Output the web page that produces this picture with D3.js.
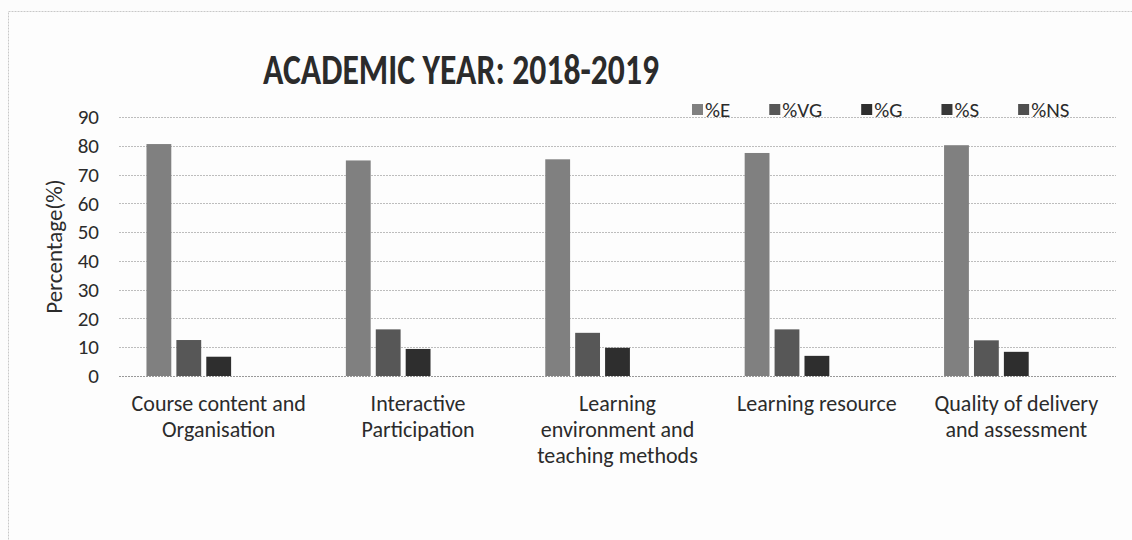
<!DOCTYPE html>
<html lang="en">
<head>
<meta charset="UTF-8">
<title>Academic year 2018-2019</title>
<style>
  body { margin: 0; background: #fcfcfc; }
  svg { display: block; }
  text { font-family: Carlito, Lato, "Open Sans", sans-serif; fill: #2b2b2b; }
  .grid line { stroke: #bdbdbd; stroke-width: 1; stroke-dasharray: 2 1; }
  .axis path, .axis line { display: none; }
</style>
</head>
<body>
<svg width="1132" height="540"></svg>
<script src="https://d3js.org/d3.v7.min.js"></script>
<script>

var categories = [
  ["Course content and", "Organisation"],
  ["Interactive", "Participation"],
  ["Learning", "environment and", "teaching methods"],
  ["Learning resource"],
  ["Quality of delivery", "and assessment"]
];
var seriesNames = ["%E", "%VG", "%G", "%S", "%NS"];
var pctE  = [80.6, 74.9, 75.3, 77.5, 80.2];
var pctVG = [12.5, 16.2, 15.0, 16.2, 12.4];
var pctG  = [6.7, 9.4, 9.8, 7.0, 8.4];
var pctS  = [0, 0, 0, 0, 0];
var pctNS = [0, 0, 0, 0, 0];
var yTicks = [0, 10, 20, 30, 40, 50, 60, 70, 80, 90];

var colors = ["#808080", "#575757", "#2e2e2e", "#383838", "#4f4f4f"];
var values = [pctE, pctVG, pctG, pctS, pctNS];

var svg = d3.select("svg");

// chart frame (runs off the page at right and bottom, like the scan)
svg.append("rect")
    .attr("x", 8.5).attr("y", 11.5)
    .attr("width", 1200).attr("height", 600)
    .attr("fill", "#fdfdfd")
    .attr("stroke", "#c8c8c8")
    .attr("stroke-dasharray", "2 1");

var plotLeft = 119, plotRight = 1116, plotTop = 117, plotBottom = 376;

var x0 = d3.scaleBand()
    .domain(d3.range(categories.length))
    .range([plotLeft, plotRight])
    .paddingInner(0.25)
    .paddingOuter(0.125);

var x1 = d3.scaleBand()
    .domain(d3.range(seriesNames.length))
    .range([0, x0.bandwidth()])
    .paddingInner(0.17)
    .paddingOuter(0.085);

var y = d3.scaleLinear().domain([0, 90]).range([plotBottom, plotTop]);

// gridlines
svg.append("g")
    .attr("class", "grid")
  .selectAll("line")
  .data(yTicks)
  .join("line")
    .attr("x1", plotLeft).attr("x2", plotRight)
    .attr("y1", function(d) { return Math.round(y(d)) + 0.5; })
    .attr("y2", function(d) { return Math.round(y(d)) + 0.5; })
    .style("stroke", function(d) { return d === 0 ? "#999" : null; });

// y tick labels
svg.append("g")
    .attr("class", "axis")
    .attr("transform", "translate(" + plotLeft + ",0)")
    .call(d3.axisLeft(y).tickValues(yTicks).tickSize(0).tickPadding(20))
    .selectAll("text")
    .style("font-size", "21px")
    .style("font-family", "Carlito, Lato, sans-serif")
    .attr("fill", "#2b2b2b");

svg.append("text")
    .attr("transform", "translate(62," + ((plotTop + plotBottom) / 2) + ") rotate(-90)")
    .attr("text-anchor", "middle")
    .style("font-size", "23px")
    .text("Percentage(%)");

// bars
var groups = svg.append("g")
  .selectAll("g")
  .data(categories)
  .join("g")
    .attr("transform", function(d, i) { return "translate(" + x0(i) + ",0)"; });

groups.selectAll("rect")
  .data(function(d, i) { return values.map(function(v, s) { return { s: s, v: v[i] }; }); })
  .join("rect")
    .attr("x", function(d) { return x1(d.s); })
    .attr("y", function(d) { return y(d.v); })
    .attr("width", x1.bandwidth())
    .attr("height", function(d) { return y(0) - y(d.v); })
    .attr("fill", function(d) { return colors[d.s]; });

// category labels
svg.append("g")
  .selectAll("text")
  .data(categories)
  .join("text")
    .attr("x", function(d, i) { return x0(i) + x0.bandwidth() / 2; })
    .attr("y", 411)
    .attr("text-anchor", "middle")
    .style("font-size", "22px")
    .each(function(lines) {
      var t = d3.select(this);
      lines.forEach(function(l, k) {
        t.append("tspan")
          .attr("x", t.attr("x"))
          .attr("dy", k === 0 ? 0 : 26)
          .text(l);
      });
    });

// title
svg.append("text")
    .attr("x", 461).attr("y", 84)
    .attr("text-anchor", "middle")
    .attr("textLength", 396)
    .attr("lengthAdjust", "spacingAndGlyphs")
    .style("font-size", "42px")
    .style("font-weight", "bold")
    .text("ACADEMIC YEAR: 2018-2019");

// legend
var lx = 692;
seriesNames.forEach(function(name, i) {
  svg.append("rect")
    .attr("x", lx).attr("y", 104)
    .attr("width", 11).attr("height", 11)
    .attr("fill", colors[i]);
  var t = svg.append("text")
    .attr("x", lx + 13).attr("y", 117)
    .style("font-size", "21px")
    .text(name);
  lx += 13 + t.node().getComputedTextLength() + 39;
});

</script>
</body>
</html>
